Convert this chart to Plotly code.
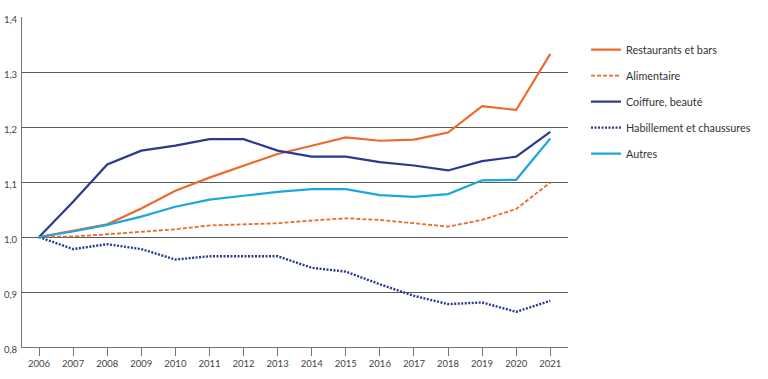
import plotly.graph_objects as go

years = list(range(2006, 2022))
restaurants = [1.000, 1.012, 1.023, 1.052, 1.084, 1.108, 1.130, 1.151, 1.166, 1.181, 1.175, 1.177, 1.190, 1.238, 1.231, 1.333]
alimentaire = [1.000, 1.001, 1.005, 1.010, 1.014, 1.021, 1.023, 1.025, 1.030, 1.034, 1.031, 1.025, 1.019, 1.031, 1.051, 1.099]
coiffure = [1.000, 1.064, 1.132, 1.157, 1.166, 1.178, 1.178, 1.157, 1.146, 1.146, 1.136, 1.130, 1.121, 1.138, 1.146, 1.191]
habillement = [1.000, 0.978, 0.987, 0.978, 0.959, 0.965, 0.965, 0.965, 0.944, 0.937, 0.914, 0.893, 0.878, 0.881, 0.864, 0.884]
autres = [1.000, 1.010, 1.022, 1.037, 1.055, 1.068, 1.075, 1.082, 1.087, 1.087, 1.076, 1.073, 1.078, 1.103, 1.104, 1.179]

names = ["Restaurants et bars", "Alimentaire", "Coiffure, beauté", "Habillement et chaussures", "Autres"]
series = [restaurants, alimentaire, coiffure, habillement, autres]
colors = ["#EC6A2C", "#EC6A2C", "#2B3A8F", "#2B3A8F", "#1DA7DF"]
dashes = ["solid", "4px,2px", "solid", "2px,1.5px", "solid"]
widths = [2.2, 1.8, 2.2, 2.4, 2.2]

fig = go.Figure()
for i, (n, s) in enumerate(zip(names, series)):
    fig.add_trace(go.Scatter(
        x=years, y=s, name=n, mode="lines",
        line=dict(color=colors[i], dash=dashes[i], width=widths[i]),
        legendgroup=f"g{i}",
    ))

fig.update_layout(
    width=768, height=379,
    margin=dict(l=22, r=191, t=17, b=32),
    paper_bgcolor="white", plot_bgcolor="white",
    separators=", ",
    font=dict(family="Lato, Open Sans, sans-serif", size=10, color="#444"),
    legend=dict(
        x=1.033, y=0.945, xanchor="left", yanchor="top",
        font=dict(size=10.8, color="#333"),
        tracegroupgap=7, bgcolor="rgba(0,0,0,0)",
    ),
    showlegend=True,
)
fig.update_xaxes(
    range=[2005.5, 2021.52], tickmode="array", tickvals=years,
    ticktext=[str(y) for y in years],
    showgrid=False, showline=True, linecolor="#777", linewidth=1,
    ticks="outside", ticklen=8, tickcolor="#777", tickwidth=1,
    tickfont=dict(size=9.5, color="#444"), zeroline=False, automargin=False,
)
fig.update_yaxes(
    range=[0.8, 1.4], tickvals=[0.8, 0.9, 1.0, 1.1, 1.2, 1.3, 1.4],
    tickformat=".1f", showgrid=True, gridcolor="#5a5a5a", gridwidth=1,
    showline=True, linecolor="#777", linewidth=1, zeroline=False,
    ticks="", tickfont=dict(size=9.5, color="#444"), ticklabelstandoff=2,
    ticklabelshift=3, automargin=False,
)

fig.write_html("out.html", config={"displayModeBar": False},
               post_script="document.body.style.margin='0';")
